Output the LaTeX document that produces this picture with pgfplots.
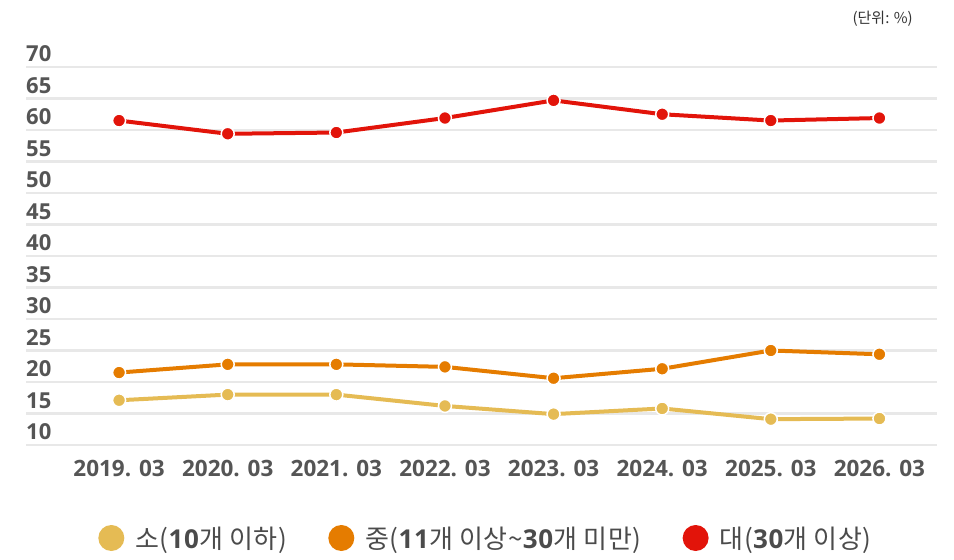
\documentclass[border=0pt]{standalone}
\usepackage{pgfplots}
\pgfplotsset{compat=1.18}
\usepackage{fontspec}
\setmainfont{Noto Sans CJK KR}
\newfontfamily\numfont{Open Sans}
\newfontfamily\legfont[LetterSpace=2.5]{Noto Sans CJK KR}
\newfontfamily\legnum[LetterSpace=2.5]{Open Sans}
\definecolor{cyel}{RGB}{229,187,84}
\definecolor{corg}{RGB}{229,124,0}
\definecolor{cred}{RGB}{226,20,10}
\definecolor{cgrid}{RGB}{232,232,232}
\definecolor{ctick}{RGB}{85,85,85}
\definecolor{clegend}{RGB}{75,75,75}
\newcommand{\nb}[1]{{\legnum\bfseries #1}}
\begin{document}
\begin{tikzpicture}
\begin{axis}[
  scale only axis,
  width=911pt, height=378pt,
  xmin=-0.857, xmax=7.53,
  ymin=10, ymax=70,
  ytick={10,15,...,70},
  xtick={0,...,7},
  xticklabels={2019. 03,2020. 03,2021. 03,2022. 03,2023. 03,2024. 03,2025. 03,2026. 03},
  ymajorgrids,
  grid style={cgrid, line width=2.5pt},
  axis line style={draw=none},
  major tick length=0pt,
  /pgf/number format/assume math mode=true,
  yticklabel style={anchor=south west, inner sep=0pt, yshift=5pt, font=\fontsize{22}{26}\selectfont\numfont\bfseries, text=ctick},
  xticklabel style={anchor=north, inner sep=0pt, yshift=-15pt, font=\fontsize{22.5}{26}\selectfont\numfont\bfseries, text=ctick},
  every axis plot/.append style={line width=4pt, mark=*, mark size=6.5pt, mark options={draw=white, line width=1.5pt}},
  legend image code/.code={\fill[draw=none] (0pt,0pt) circle (13pt);},
  legend style={at={(0.5,0)}, anchor=center, yshift=-93pt, xshift=9pt, draw=none, fill=none,
    legend columns=3, font=\fontsize{26}{30}\selectfont\legfont, text=clegend,
    nodes={inner xsep=11pt},
    /tikz/every even column/.append style={column sep=30pt}},
  clip=false,
]
\coordinate (O) at (rel axis cs:0,0);
\addplot[color=cyel] coordinates {(0,17.1) (1,18.0) (2,18.0) (3,16.2) (4,14.9) (5,15.8) (6,14.1) (7,14.2)};
\addlegendentry{소(\nb{10}개 이하)}
\addplot[color=corg] coordinates {(0,21.5) (1,22.8) (2,22.8) (3,22.4) (4,20.6) (5,22.1) (6,25.0) (7,24.4)};
\addlegendentry{중(\nb{11}개 이상\textasciitilde\nb{30}개 미만)}
\addplot[color=cred] coordinates {(0,61.5) (1,59.4) (2,59.6) (3,61.9) (4,64.7) (5,62.5) (6,61.5) (7,61.9)};
\addlegendentry{대(\nb{30}개 이상)}
\node[anchor=south east, inner sep=0pt, xshift=-24pt, yshift=40pt, font=\fontsize{15}{18}\selectfont, text=black!80] at (rel axis cs:1,1) {(단위: \%)};
\end{axis}
\path (O) ++(-26pt,-115pt) rectangle ++(954pt,560pt);
\end{tikzpicture}
\end{document}
